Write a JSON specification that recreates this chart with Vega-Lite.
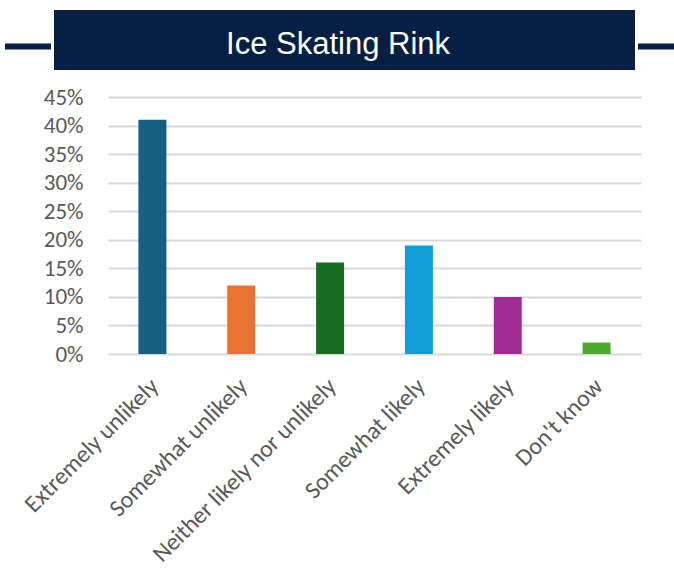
{
  "$schema": "https://vega.github.io/schema/vega-lite/v6.json",
  "padding": {"left": 2, "top": 10, "right": 0, "bottom": 0},
  "background": "white",
  "datasets": {
    "header": [{"title": "Ice Skating Rink"}],
    "survey": [
      {"response": "Extremely unlikely", "share": 0.41},
      {"response": "Somewhat unlikely", "share": 0.12},
      {"response": "Neither likely nor unlikely", "share": 0.16},
      {"response": "Somewhat likely", "share": 0.19},
      {"response": "Extremely likely", "share": 0.10},
      {"response": "Don't know", "share": 0.02}
    ]
  },
  "config": {"view": {"stroke": null}},
  "spacing": 16,
  "vconcat": [
    {
      "spacing": 0,
      "hconcat": [
        {
          "width": 46, "height": 60,
          "data": {"name": "header"},
          "mark": {"type": "rule", "color": "#061F43", "strokeWidth": 6},
          "encoding": {"y": {"datum": 0.39, "type": "quantitative", "scale": {"domain": [0, 1]}, "axis": null}}
        },
        {
          "width": 581, "height": 60,
          "view": {"fill": "#061F43", "stroke": null},
          "data": {"name": "header"},
          "mark": {"type": "text", "color": "white", "font": "Liberation Sans", "fontSize": 31, "baseline": "middle", "align": "center"},
          "encoding": {
            "text": {"field": "title"},
            "x": {"datum": 0.489, "type": "quantitative", "scale": {"domain": [0, 1]}, "axis": null},
            "y": {"datum": 0.42, "type": "quantitative", "scale": {"domain": [0, 1]}, "axis": null}
          }
        },
        {
          "width": 45, "height": 60,
          "data": {"name": "header"},
          "mark": {"type": "rule", "color": "#061F43", "strokeWidth": 6},
          "encoding": {"y": {"datum": 0.39, "type": "quantitative", "scale": {"domain": [0, 1]}, "axis": null}}
        }
      ]
    },
    {
      "spacing": 0,
      "hconcat": [
        {
          "width": 1, "height": 257,
          "data": {"name": "header"},
          "mark": {"type": "text"},
          "encoding": {"text": {"value": ""}}
        },
        {
          "width": 533, "height": 257,
          "data": {"name": "survey"},
          "mark": {"type": "bar"},
          "encoding": {
            "x": {
              "field": "response", "type": "nominal", "sort": null,
              "scale": {"paddingInner": 0.685, "paddingOuter": 0.3425},
              "axis": {
                "title": null, "domain": false, "ticks": false, "labelAngle": -45,
                "labelAlign": "right", "labelBaseline": "top", "labelPadding": 20, "labelOffset": -6,
                "labelFont": "Carlito, Lato", "labelFontSize": 24, "labelColor": "#595959",
                "labelLimit": 400
              }
            },
            "y": {
              "field": "share", "type": "quantitative",
              "scale": {"domain": [0, 0.45], "nice": false},
              "axis": {
                "title": null, "format": ".0%", "values": [0, 0.05, 0.1, 0.15, 0.2, 0.25, 0.3, 0.35, 0.4, 0.45],
                "domain": false, "ticks": false, "labelPadding": 25, "minExtent": 102,
                "labelFont": "Carlito, Lato", "labelFontSize": 23, "labelColor": "#595959",
                "gridColor": "#D9D9D9", "gridWidth": 2
              }
            },
            "color": {
              "field": "response", "type": "nominal", "sort": null, "legend": null,
              "scale": {"range": ["#156082", "#E97132", "#196B24", "#0F9ED5", "#A02B93", "#4EA72E"]}
            }
          }
        }
      ]
    }
  ]
}
